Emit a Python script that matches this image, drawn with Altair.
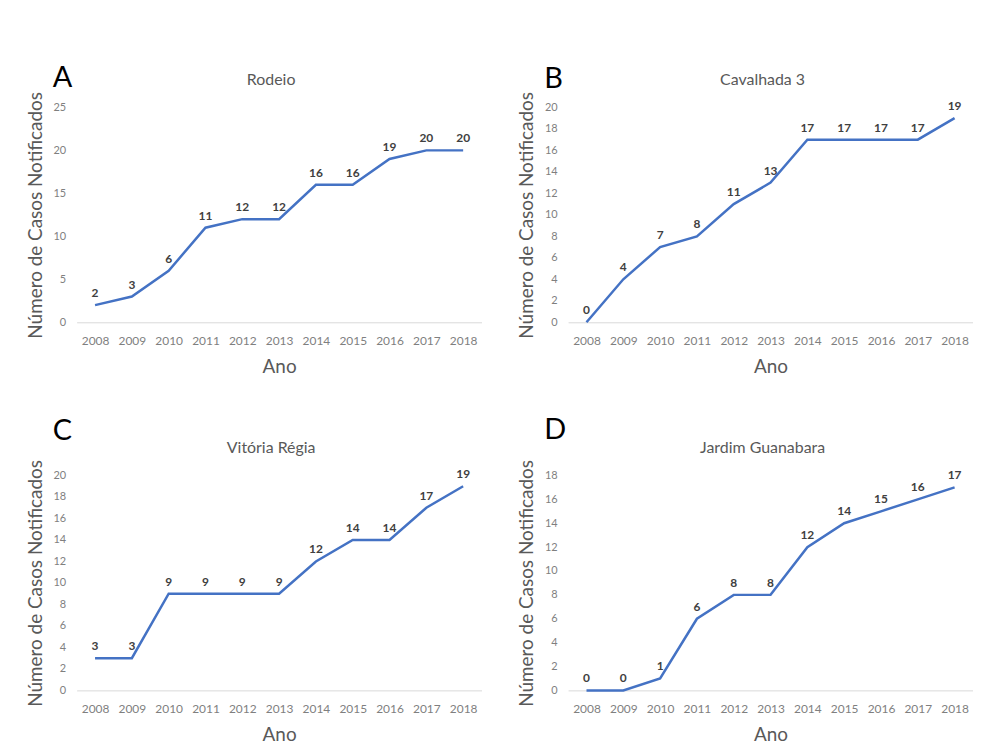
import altair as alt
import pandas as pd

years = [str(y) for y in range(2008, 2019)]
rodeio = [2, 3, 6, 11, 12, 12, 16, 16, 19, 20, 20]
cavalhada = [0, 4, 7, 8, 11, 13, 17, 17, 17, 17, 19]
vitoria = [3, 3, 9, 9, 9, 9, 12, 14, 14, 17, 19]
jardim = [0, 0, 1, 6, 8, 8, 12, 14, 15, 16, 17]
letters = ["A", "B", "C", "D"]
titles = ["Rodeio", "Cavalhada 3", "Vitória Régia", "Jardim Guanabara"]
ymaxes = [25, 20, 20, 18]
ysteps = [5, 2, 2, 2]
series = [rodeio, cavalhada, vitoria, jardim]

FONT = "Lato"
W, H = 407, 216


def panel(values, letter, title, ymax, ystep, letter_y):
    df = pd.DataFrame({"Ano": years, "Casos": values})
    x = alt.X(
        "Ano:O",
        scale=alt.Scale(type="point", padding=0.5),
        axis=alt.Axis(
            labelAngle=0, ticks=False, domainColor="#d9d9d9", labelColor="#7f7f7f",
            labelFontSize=12, labelPadding=13, title="Ano", titleFontSize=19,
            titleFontWeight="normal", titleColor="#595959", titlePadding=11,
        ),
    )
    y = alt.Y(
        "Casos:Q",
        scale=alt.Scale(domain=[0, ymax], nice=False),
        axis=alt.Axis(
            values=list(range(0, ymax + 1, ystep)), grid=False, domain=False, ticks=False,
            labelColor="#7f7f7f", labelFontSize=11, labelPadding=11,
            title="Número de Casos Notificados", titleFontSize=19,
            titleFontWeight="normal", titleColor="#595959", titlePadding=8,
        ),
    )
    base = alt.Chart(df).encode(x=x, y=y)
    line = base.mark_line(color="#4472C4", strokeWidth=2.5)
    labels = base.mark_text(dy=-12, fontSize=12, fontWeight="bold", color="#404040", font=FONT).encode(
        text="Casos:Q"
    )
    ann = alt.Data(values=[{"t": letter, "n": title}])
    let = alt.Chart(ann).mark_text(
        align="left", baseline="middle", fontSize=29, color="black", font=FONT
    ).encode(text="t:N", x=alt.value(-24), y=alt.value(letter_y))
    name = alt.Chart(ann).mark_text(
        align="center", baseline="middle", fontSize=16, color="#595959", font=FONT
    ).encode(text="n:N", x=alt.value(W / 2 - 8), y=alt.value(-28))
    return alt.layer(line, labels, let, name).properties(
        width=W, height=H, view=alt.ViewBackground(stroke="transparent", strokeWidth=0)
    )


letter_ys = [-30, -29, -45, -46]
panels = [
    panel(series[i], letters[i], titles[i], ymaxes[i], ysteps[i], letter_ys[i]) for i in range(4)
]

chart = (
    alt.concat(*panels, columns=2, spacing={"row": 40, "column": 36})
    .properties(padding={"top": 54, "left": 18, "right": 0, "bottom": 2})
    .configure_view(stroke="transparent", strokeWidth=0)
    .configure(font=FONT)
    .configure_axis(labelFont=FONT, titleFont=FONT)
)

chart.save("out.html", embed_options={"renderer": "svg", "actions": False})
